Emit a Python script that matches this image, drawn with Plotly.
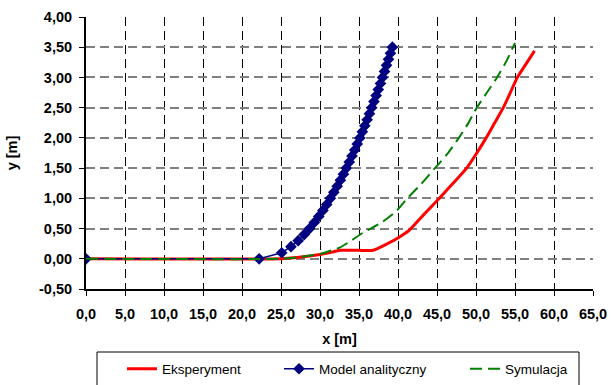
import plotly.graph_objects as go

# Data
exp_x = [0.0, 24.9, 27.0, 30.0, 31.5, 32.6, 35.0, 36.8, 38.5, 40.3, 41.5, 43.3, 45.3, 47.0,
         48.8, 50.0, 51.3, 52.4, 53.5, 54.4, 55.3, 56.4, 57.5]
exp_y = [0.0, 0.0, 0.02, 0.07, 0.11, 0.14, 0.14, 0.14, 0.24, 0.37, 0.48, 0.73, 1.0, 1.24,
         1.5, 1.73, 2.0, 2.25, 2.5, 2.75, 3.0, 3.22, 3.44]

model_x = [0.0, 22.2, 25.09, 26.28, 27.2, 27.97, 28.66, 29.27, 29.84, 30.37, 30.86, 31.33,
           31.77, 32.2, 32.61, 33.0, 33.38, 33.75, 34.1, 34.45, 34.78, 35.11, 35.43, 35.74,
           36.04, 36.34, 36.63, 36.92, 37.2, 37.47, 37.75, 38.01, 38.27, 38.53, 38.78, 39.03,
           39.28]
model_y = [0.0, 0.0, 0.1, 0.2, 0.3, 0.4, 0.5, 0.6, 0.7, 0.8, 0.9, 1.0, 1.1, 1.2, 1.3, 1.4,
           1.5, 1.6, 1.7, 1.8, 1.9, 2.0, 2.1, 2.2, 2.3, 2.4, 2.5, 2.6, 2.7, 2.8, 2.9, 3.0,
           3.1, 3.2, 3.3, 3.4, 3.5]

sim_x = [0.0, 25.0, 27.5, 30.0, 32.6, 34.0, 35.5, 37.9, 39.8, 41.2, 43.0, 44.6, 46.3, 47.8,
         49.0, 50.1, 51.4, 52.7, 53.9, 55.0]
sim_y = [0.0, 0.0, 0.03, 0.08, 0.19, 0.3, 0.43, 0.6, 0.79, 1.0, 1.24, 1.48, 1.73, 2.0,
         2.24, 2.5, 2.75, 3.0, 3.27, 3.57]

names = ["Eksperyment", "Model analityczny", "Symulacja"]

x_tickvals = [0, 5, 10, 15, 20, 25, 30, 35, 40, 45, 50, 55, 60, 65]
x_ticktext = ["0,0", "5,0", "10,0", "15,0", "20,0", "25,0", "30,0", "35,0", "40,0",
              "45,0", "50,0", "55,0", "60,0", "65,0"]
y_tickvals = [-0.5, 0.0, 0.5, 1.0, 1.5, 2.0, 2.5, 3.0, 3.5, 4.0]
y_ticktext = ["-0,50", "0,00", "0,50", "1,00", "1,50", "2,00", "2,50", "3,00", "3,50", "4,00"]

W, H = 611, 385
L, R, T, B = 86, 18, 17, 96
PW, PH = W - L - R, H - T - B


def px(xp):
    return (xp - L) / PW


def py(yp):
    return (H - B - yp) / PH


FONT = "Liberation Sans, Arial, sans-serif"

fig = go.Figure()
fig.add_trace(go.Scatter(x=exp_x, y=exp_y, mode="lines", name=names[0], showlegend=True,
                         line=dict(color="#FF0000", width=3, shape="spline", smoothing=0.5),
                         legend="legend"))
fig.add_trace(go.Scatter(x=model_x, y=model_y, mode="lines+markers", name=names[1],
                         showlegend=True,
                         line=dict(color="#000080", width=1.5),
                         marker=dict(symbol="diamond", size=9, color="#000080"),
                         legend="legend2"))
fig.add_trace(go.Scatter(x=sim_x, y=sim_y, mode="lines", name=names[2], showlegend=True,
                         line=dict(color="#008000", width=2, dash="12px,6px",
                                   shape="spline", smoothing=0.5),
                         legend="legend3"))

axis_common = dict(
    showline=True, linecolor="black", linewidth=2, zeroline=False,
    ticks="outside", ticklen=5, tickcolor="black", tickwidth=1,
    tickfont=dict(family=FONT, size=14.5, color="black", weight="bold"),
    showgrid=True, tickmode="array",
)

fig.update_xaxes(range=[0, 65], tickvals=x_tickvals, ticktext=x_ticktext,
                 gridcolor="#000000", gridwidth=1, griddash="9px,5px",
                 ticklabelstandoff=6,
                 title=dict(text="x [m]", standoff=12,
                            font=dict(family=FONT, size=14.5, color="black", weight="bold")),
                 **axis_common)
fig.update_yaxes(range=[-0.5, 4.0], tickvals=y_tickvals, ticktext=y_ticktext,
                 gridcolor="#808080", gridwidth=1.5, griddash="9px,5px",
                 ticklabelstandoff=4,
                 title=dict(text="y [m]", standoff=18,
                            font=dict(family=FONT, size=14.5, color="black", weight="bold")),
                 **axis_common)

legfont = dict(family=FONT, size=13.5, color="black")
leg_y = py(369)
fig.update_layout(
    width=W, height=H,
    showlegend=True,
    margin=dict(l=L, r=R, t=T, b=B, pad=0, autoexpand=False),
    plot_bgcolor="white", paper_bgcolor="white",
    legend=dict(x=px(122), y=leg_y, xanchor="left", yanchor="middle", font=legfont,
                bgcolor="rgba(0,0,0,0)", borderwidth=0, visible=True),
    legend2=dict(x=px(279), y=leg_y, xanchor="left", yanchor="middle", font=legfont,
                 bgcolor="rgba(0,0,0,0)", borderwidth=0),
    legend3=dict(x=px(465), y=leg_y, xanchor="left", yanchor="middle", font=legfont,
                 bgcolor="rgba(0,0,0,0)", borderwidth=0),
    shapes=[dict(type="rect", xref="paper", yref="paper",
                 x0=px(97), x1=px(579), y0=py(352), y1=py(420),
                 line=dict(color="black", width=1), fillcolor="rgba(0,0,0,0)")],
)

fig.write_html("out.html")
